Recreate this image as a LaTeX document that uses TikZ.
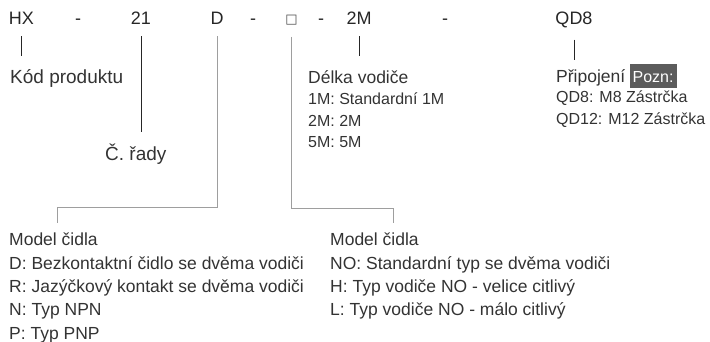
\documentclass[tikz,border=0pt]{standalone}
\usepackage{fontspec}
\setmainfont{Liberation Sans}
\newfontfamily\symfont{DejaVu Sans}
\usetikzlibrary{positioning}
\definecolor{ink}{HTML}{333333}
\definecolor{rule}{HTML}{9E9E9E}
\definecolor{notefill}{HTML}{5C5C5C}

\begin{document}
\begin{tikzpicture}[
  x=1pt, y=-1pt,
  every node/.style={inner sep=0pt, text=ink},
  code/.style={anchor=base, font=\fontsize{18}{22}\selectfont, text=black!85},
  big/.style={anchor=base west, font=\fontsize{19}{23}\selectfont},
  head/.style={anchor=base west, font=\fontsize{17.5}{21}\selectfont},
  items/.style={align=left, font=\fontsize{16}{21.5}\selectfont},
  block/.style={anchor=north west, align=left, font=\fontsize{17.5}{23.3}\selectfont},
  note/.style={fill=notefill, text=white, font=\fontsize{16}{19}\selectfont,
    inner xsep=3pt, inner ysep=1.5pt, text height=17pt, text depth=4pt},
  lead/.style={draw=black!85, line width=0.9pt},
  bracket/.style={draw=rule, line width=0.9pt},
]
  \useasboundingbox (0,0) rectangle (710,341);

  % type code
  \node[code] (hx) at (21.5,24) {HX};
  \node[code] (dashA) at (78,24) {-};
  \node[code] (ser) at (141,24) {21};
  \node[code] (typ) at (217,24) {D};
  \node[code] (dashB) at (253,24) {-};
  \node[code, text=black!70] (sq) at (291.5,23) {\symfont\fontsize{13}{15}\selectfont □};
  \node[code] (dashC) at (321,24) {-};
  \node[code] (len) at (359,24) {2M};
  \node[code] (dashD) at (445,24) {-};
  \node[code] (conn) at (574,24) {QD8};

  % labels
  \node[big] (kod) at (10,83) {Kód produktu};
  \node[big] (rada) at (105,160) {Č. řady};
  \node[head] (delka) at (308,83) {Délka vodiče};
  \node[items, below=10pt of delka.base west, anchor=north west] (delkaList)
    {1M: Standardní 1M\\2M: 2M\\5M: 5M};
  \node[head] (pripoj) at (556,82) {Připojení};
  \node[note, right=4pt of pripoj.base east, anchor=base west] (pozn) {Pozn:};
  \node[items, below=9pt of pripoj.base west, anchor=north west] (pripojList)
    {QD8: M8 Zástrčka\\QD12: M12 Zástrčka};
  \node[block] (modelA) at (9,233)
    {Model čidla\\D: Bezkontaktní čidlo se dvěma vodiči\\R: Jazýčkový kontakt se dvěma vodiči\\N: Typ NPN\\P: Typ PNP};
  \node[block] (modelB) at (330,233)
    {Model čidla\\NO: Standardní typ se dvěma vodiči\\H: Typ vodiče NO - velice citlivý\\L: Typ vodiče NO - málo citlivý};

  % leaders
  \draw[lead] ([yshift=-12pt]hx.south) -- ++(0,20);
  \draw[lead] ([yshift=-12pt]ser.south) -- ++(0,96);
  \draw[lead] ([yshift=-12pt]len.south) -- ++(0,20);
  \draw[lead] ([yshift=-12pt]conn.south) -- ++(0,20);
  \draw[bracket] ([yshift=-12pt]typ.south) -- ++(0,171) -| ([xshift=48pt,yshift=10pt]modelA.north west);
  \draw[bracket] ([yshift=-12pt]sq.south) -- ++(0,172) -| ([xshift=63pt,yshift=10pt]modelB.north west);
\end{tikzpicture}
\end{document}
